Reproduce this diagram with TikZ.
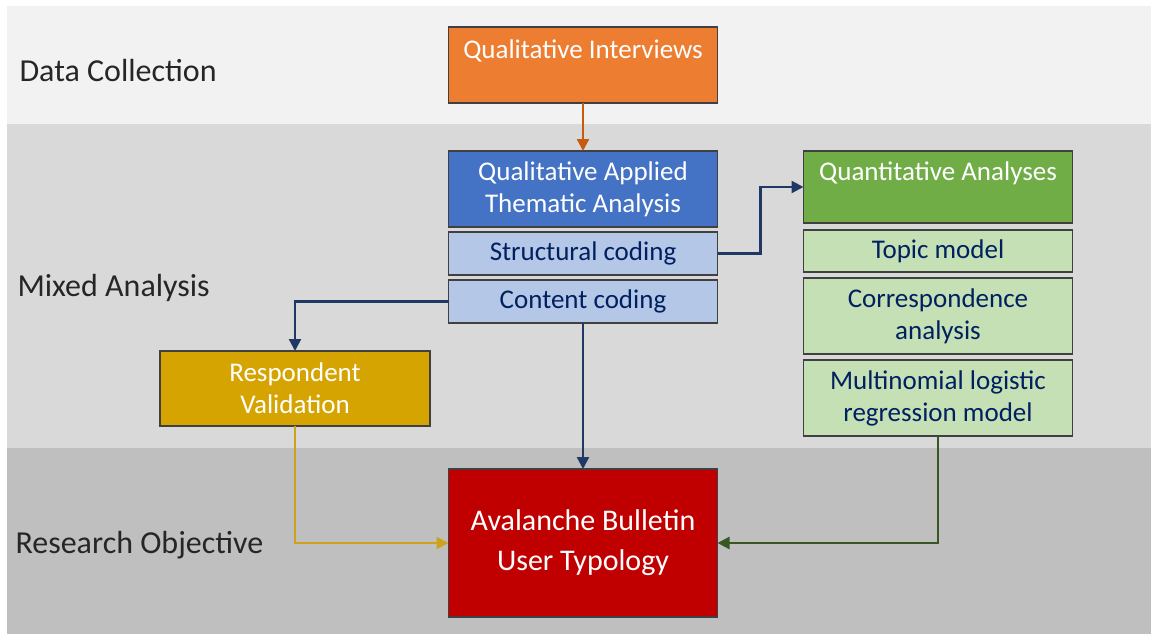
\documentclass[tikz,border=0pt]{standalone}
\usepackage{fontspec}
\setmainfont{Carlito}
\usepackage{tikz}
\usetikzlibrary{arrows.meta, positioning}
\definecolor{bandone}{HTML}{F2F2F2}
\definecolor{bandtwo}{HTML}{D9D9D9}
\definecolor{bandthree}{HTML}{BFBFBF}
\definecolor{qualorange}{HTML}{ED7D31}
\definecolor{darkorange}{HTML}{C55A11}
\definecolor{qualblue}{HTML}{4472C4}
\definecolor{lightblue}{HTML}{B4C7E7}
\definecolor{navy}{HTML}{1F3864}
\definecolor{navytext}{HTML}{002060}
\definecolor{quantgreen}{HTML}{70AD47}
\definecolor{lightgreen}{HTML}{C5E0B4}
\definecolor{darkgreen}{HTML}{385723}
\definecolor{gold}{HTML}{D6A400}
\definecolor{goldline}{HTML}{CFA21E}
\definecolor{objred}{HTML}{C00000}

\begin{document}
\begin{tikzpicture}[
        x=1pt, y=-1pt,
        node distance=5pt,
        stage/.style={anchor=west, font=\fontsize{32}{36}\selectfont, text=black!85},
        box/.style={rectangle, draw=black!75, line width=1.2pt, outer sep=0pt,
                    minimum width=269pt, inner sep=2pt, align=center,
                    font=\fontsize{27}{32}\selectfont},
        head/.style={box, text=white, minimum height=76pt},
        sub/.style={box, text=navytext, minimum height=43pt},
        arrow/.style={-{Triangle[length=12pt, width=12pt]}, line width=2.4pt}
      ]
        % background bands
        \useasboundingbox (0,0) rectangle (1151,634);
        \fill[bandone]   (7,6)   rectangle (1151,124);
        \fill[bandtwo]   (7,124) rectangle (1151,448);
        \fill[bandthree] (7,448) rectangle (1151,634);
        \node[stage] (collect)  at (16,71)  {Data Collection};
        \node[stage] (mixed)    at (14,288) {Mixed Analysis};
        \node[stage] (objective) at (12,545) {Research Objective};

        % qualitative strand
        \node[head, fill=qualorange, anchor=north] (interviews) at (583,27)
              {Qualitative Interviews\\ \mbox{}};
        \node[head, fill=qualblue, anchor=north] (thematic) at (583,151)
              {Qualitative Applied\\Thematic Analysis};
        \node[sub, fill=lightblue, below=of thematic] (structural) {Structural coding};
        \node[sub, fill=lightblue, below=of structural] (content) {Content coding};

        % quantitative strand
        \node[head, fill=quantgreen, minimum height=72pt, anchor=north] (quant) at (938,151)
              {Quantitative Analyses\\ \mbox{}};
        \node[sub, fill=lightgreen, minimum height=42pt, below=7pt of quant] (topic) {Topic model};
        \node[head, text=navytext, fill=lightgreen, below=6pt of topic] (corresp)
              {Correspondence\\analysis};
        \node[head, text=navytext, fill=lightgreen, below=6pt of corresp] (multinom)
              {Multinomial logistic\\regression model};

        % validation and objective
        \node[head, fill=gold, minimum width=270pt, minimum height=75pt, anchor=north] (validation) at (295,351)
              {Respondent\\Validation};
        \node[box, fill=objred, text=white, minimum height=148pt, anchor=north,
              font=\fontsize{30}{40}\selectfont] (typology) at (583,469)
              {Avalanche Bulletin\\User Typology};

        \draw[arrow, darkorange] (interviews) -- (thematic);
        \draw[arrow, navy] (structural.east) -- ++(43,0) |- (quant.west);
        \draw[arrow, navy] (content.west) -| (validation.north);
        \draw[arrow, navy] (content) -- (typology);
        \draw[arrow, goldline] (validation.south) |- (typology.west);
        \draw[arrow, darkgreen] (multinom.south) |- (typology.east);
      \end{tikzpicture}
\end{document}
